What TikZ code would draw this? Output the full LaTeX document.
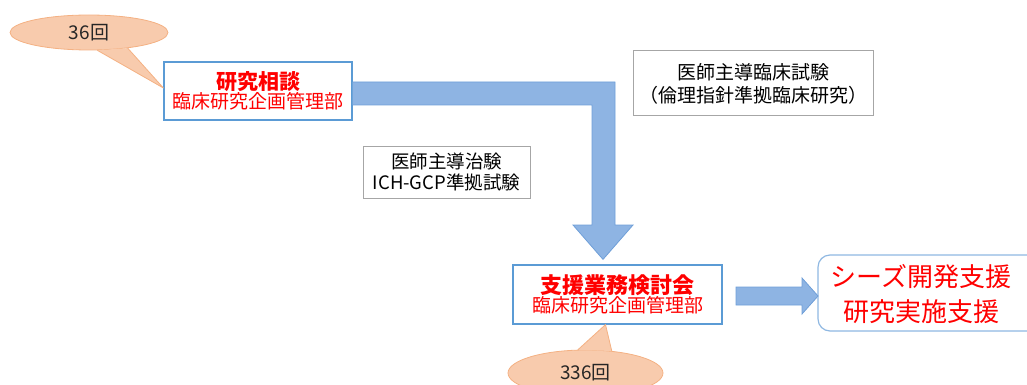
\documentclass[tikz,border=0pt]{standalone}
\usepackage{fontspec}
\setmainfont{Noto Sans CJK JP}
\usetikzlibrary{shapes.geometric,calc}
\definecolor{calfill}{HTML}{F8CBAD}
\definecolor{calline}{HTML}{F4B183}
\definecolor{boxblue}{HTML}{5B9BD5}
\definecolor{arrfill}{HTML}{8EB4E3}
\definecolor{arrline}{HTML}{6F9FD8}
\definecolor{grayline}{HTML}{A6A6A6}
\definecolor{rboxline}{HTML}{8FB8E2}
\definecolor{txtred}{HTML}{FF0000}
\definecolor{txtdark}{HTML}{262626}
\tikzset{
  bluebox/.style={draw=boxblue, line width=1.2pt, fill=white, rectangle, inner sep=0pt, align=center, text=txtred},
  graybox/.style={draw=grayline, line width=1pt, fill=white, rectangle, inner sep=0pt, align=center, text=black, font=\fontsize{18.5}{21}\selectfont},
  callout/.style={ellipse, draw=calline, fill=calfill, line width=0.8pt, inner sep=0pt, text=txtdark, font=\fontsize{19}{22}\selectfont},
  tail/.style={draw=calline, fill=calfill, line width=0.8pt, line join=round},
  bigarrow/.style={draw=arrline, fill=arrfill, line width=0.8pt, line join=miter},
}
\begin{document}
\begin{tikzpicture}[x=1pt,y=-1pt]
\useasboundingbox (0,0) rectangle (1027,385);

% boxes
\node[bluebox, minimum width=188pt, minimum height=58pt] (b1) at (258,91)
  {{\fontsize{21}{22}\selectfont\bfseries 研究相談}\\{\fontsize{19}{22}\selectfont 臨床研究企画管理部}};
\node[bluebox, minimum width=209pt, minimum height=59pt] (b2) at (617.5,294.5)
  {{\fontsize{22}{22}\selectfont\bfseries 支援業務検討会}\\{\fontsize{19}{23}\selectfont 臨床研究企画管理部}};
\node[graybox, minimum width=167pt, minimum height=52pt] (g1) at (446.5,172)
  {医師主導治験\\ICH-GCP準拠試験};
\node[graybox, minimum width=240pt, minimum height=65pt, font=\fontsize{19}{23}\selectfont] (g2) at (753,83.5)
  {医師主導臨床試験\\（倫理指針準拠臨床研究）};

% result box (rounded, cut at right edge)
\draw[draw=rboxline, line width=1.2pt, fill=white, rounded corners=12pt] (818,255) rectangle (1060,331);
\node[inner sep=0pt, align=center, text=txtred, font=\fontsize{26}{35}\selectfont] (r) at (921,294.5)
  {シーズ開発支援\\研究実施支援};
\coordinate (rw) at (818,296);

% big bent arrow from b1 to b2
\draw[bigarrow] ($(b1.east)+(0,-9)$) -- (615,82) -- (615,225) -- (633,225)
  -- ($(b2.north)+(-14.5,-5)$) -- (573,225) -- (592,225) -- (592,105) -- ($(b1.east)+(0,14)$);

% right arrow from b2 to r
\draw[bigarrow] (736,287) -- (802,287) -- (802,278) -- (rw) -- (802,314) -- (802,305) -- (736,305) -- cycle;

% callouts
\node[callout, minimum width=158pt, minimum height=35pt] (c1) at (89,32.5) {36回};
\path[tail] (c1.-65) -- ($(b1.west)+(0,-3)$) -- (c1.-22);
\node[callout, minimum width=155pt, minimum height=46pt] (c2) at (585.5,373) {};
\path[tail] (c2.108) -- ($(b2.south)+(-12,0)$) -- (c2.40);
\node[inner sep=0pt, text=txtdark, font=\fontsize{19}{22}\selectfont] (t2) at (585.5,373) {336回};
\end{tikzpicture}
\end{document}
